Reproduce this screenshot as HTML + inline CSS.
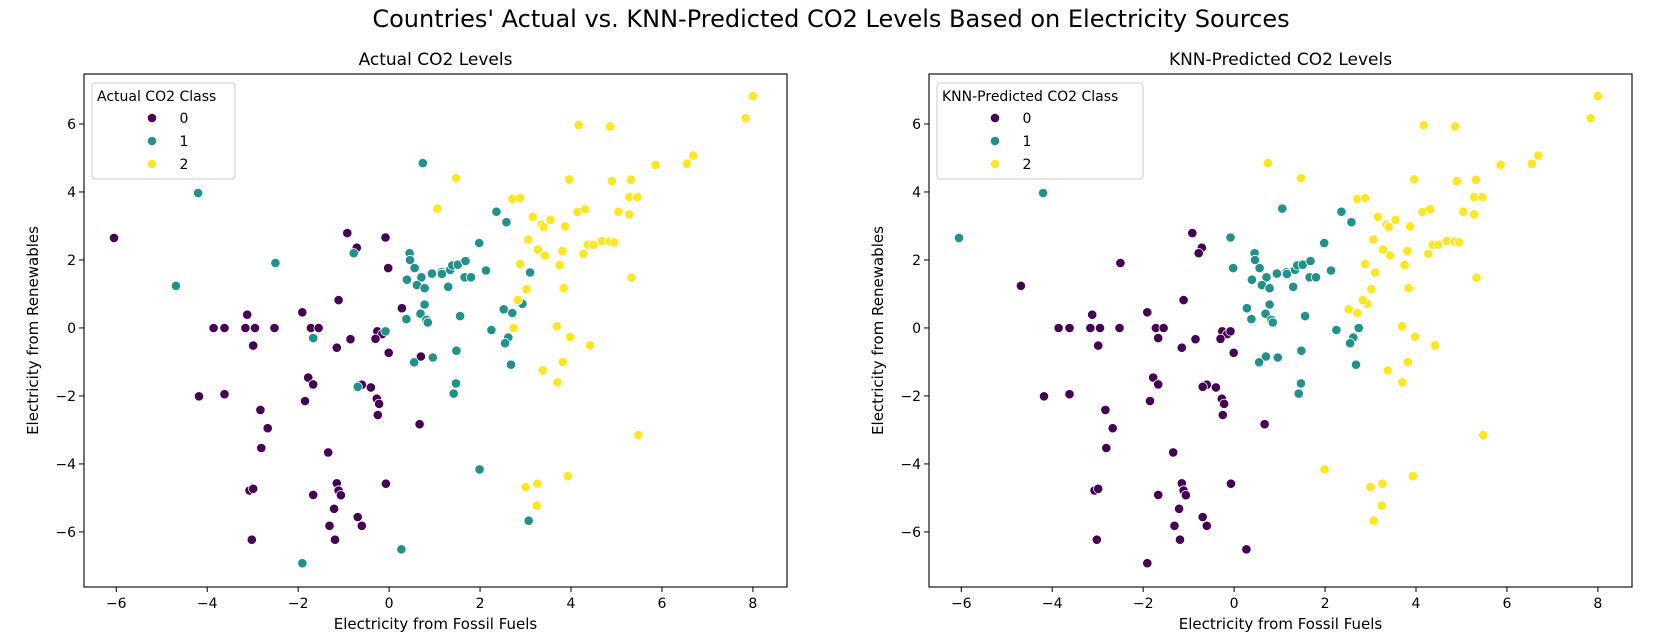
<!DOCTYPE html>
<html><head><meta charset="utf-8"><style>
html,body{margin:0;padding:0;background:#fff;}
svg{display:block;font-family:"DejaVu Sans","Liberation Sans",sans-serif;}
</style></head><body>
<svg id="fig" width="1662" height="639" viewBox="0 0 1662 639">
<text x="831" y="27" font-size="24" text-anchor="middle" fill="#000">Countries' Actual vs. KNN-Predicted CO2 Levels Based on Electricity Sources</text>
<g id="p0"></g>
<g id="p1"></g>
</svg>
<script>
const xs = [-6.05,-0.92,-0.71,-0.08,-0.02,-1.11,-3.12,-1.91,0.28,-3.86,-3.62,-3.16,-2.95,-2.52,-1.72,-1.55,-2.99,-1.15,-0.85,-0.26,-0.15,-0.3,-0.01,-1.78,-1.67,-1.85,-0.6,-0.4,-0.27,-0.22,-0.25,-4.18,-3.62,-2.83,-2.67,-2.81,-1.34,-0.07,-3.07,-2.99,-1.67,-1.15,-1.11,-1.06,-1.21,-0.69,-0.6,-1.31,-3.02,-1.19,0.7,0.67,
-4.2,-4.69,-2.5,-0.78,0.45,0.46,0.56,0.39,0.71,0.61,0.78,0.94,1.15,1.16,1.34,1.39,1.51,1.68,1.3,1.66,1.8,2.13,1.98,0.74,2.36,2.58,3.1,2.52,2.71,2.93,-1.67,-0.08,0.38,0.55,-0.69,-1.91,0.27,0.78,0.69,0.82,0.85,1.56,2.25,2.62,2.55,1.48,0.96,2.68,1.47,1.42,1.99,3.07,
2.83,2.74,3.69,3.98,4.42,3.82,3.38,3.7,5.48,3.93,3.0,3.26,3.25,4.17,4.86,8.0,7.84,1.47,3.96,4.9,5.32,5.86,6.55,6.69,5.28,5.46,2.71,2.88,4.14,4.31,5.04,5.28,3.16,3.55,3.35,3.4,3.87,3.06,3.27,3.43,3.81,4.37,4.49,4.68,4.85,4.95,4.27,2.88,3.75,5.33,3.02,3.84,1.06];
const ys = [2.65,2.79,2.36,2.66,1.76,0.82,0.39,0.46,0.58,0,0,0,0,0,0,0,-0.52,-0.58,-0.33,-0.1,-0.18,-0.32,-0.73,-1.46,-1.66,-2.15,-1.67,-1.75,-2.08,-2.23,-2.56,-2.01,-1.95,-2.41,-2.95,-3.53,-3.66,-4.58,-4.78,-4.73,-4.91,-4.57,-4.78,-4.92,-5.32,-5.56,-5.82,-5.82,-6.23,-6.23,-0.84,-2.83,
3.97,1.24,1.91,2.2,2.2,2.0,1.76,1.42,1.49,1.26,1.17,1.6,1.64,1.59,1.71,1.84,1.86,1.97,1.21,1.49,1.49,1.69,2.5,4.85,3.42,3.11,1.63,0.55,0.44,0.71,-0.3,-0.1,0.26,-1.01,-1.73,-6.92,-6.51,0.69,0.42,0.24,0.16,0.35,-0.06,-0.28,-0.45,-0.67,-0.87,-1.08,-1.63,-1.93,-4.16,-5.67,
0.82,0,0.05,-0.26,-0.51,-1.0,-1.25,-1.6,-3.15,-4.36,-4.68,-4.58,-5.23,5.97,5.93,6.82,6.17,4.41,4.37,4.32,4.36,4.8,4.83,5.07,3.85,3.85,3.8,3.82,3.41,3.49,3.42,3.34,3.27,3.18,3.04,2.97,2.99,2.6,2.31,2.13,2.26,2.45,2.45,2.56,2.54,2.52,2.18,1.88,1.85,1.48,1.14,1.17,3.51];
const actualClass = [0,0,0,0,0,0,0,0,0,0,0,0,0,0,0,0,0,0,0,0,0,0,0,0,0,0,0,0,0,0,0,0,0,0,0,0,0,0,0,0,0,0,0,0,0,0,0,0,0,0,0,0,
1,1,1,1,1,1,1,1,1,1,1,1,1,1,1,1,1,1,1,1,1,1,1,1,1,1,1,1,1,1,1,1,1,1,1,1,1,1,1,1,1,1,1,1,1,1,1,1,1,1,1,1,
2,2,2,2,2,2,2,2,2,2,2,2,2,2,2,2,2,2,2,2,2,2,2,2,2,2,2,2,2,2,2,2,2,2,2,2,2,2,2,2,2,2,2,2,2,2,2,2,2,2,2,2,2];
const predClass = [1,0,0,1,1,0,0,0,1,0,0,0,0,0,0,0,0,0,0,0,0,0,0,0,0,0,0,0,0,0,0,0,0,0,0,0,0,0,0,0,0,0,0,0,0,0,0,0,0,0,1,0,
1,0,0,0,1,1,1,1,1,1,1,1,1,1,1,1,1,1,1,1,1,1,1,2,1,1,2,2,2,2,0,0,1,1,0,0,0,1,1,1,1,1,1,1,1,1,1,1,1,1,2,2,
2,1,2,2,2,2,2,2,2,2,2,2,2,2,2,2,2,2,2,2,2,2,2,2,2,2,2,2,2,2,2,2,2,2,2,2,2,2,2,2,2,2,2,2,2,2,2,2,2,2,2,2,1];
const xTicks = [-6,-4,-2,0,2,4,6,8];
const yTicks = [-6,-4,-2,0,2,4,6];
const classLabels = ["0","1","2"];
const palette = ["#440154","#21918c","#fde725"];
const panelTitles = ["Actual CO2 Levels","KNN-Predicted CO2 Levels"];
const legendTitles = ["Actual CO2 Class","KNN-Predicted CO2 Class"];

const NS = "http://www.w3.org/2000/svg";
function mk(parent, tag, attrs, text){
  const e = document.createElementNS(NS, tag);
  for (const k in attrs) e.setAttribute(k, attrs[k]);
  if (text !== undefined) e.textContent = text;
  parent.appendChild(e);
  return e;
}
const xMin=-6.71, xMax=8.75, yMin=-7.62, yMax=7.47;
const axTop=74, axBottom=587, axWidth=703;
const lefts=[84,929];
const legW=[143,206];

function drawPanel(pi, classes){
  const g = document.getElementById('p'+pi);
  const L = lefts[pi], R = L+axWidth;
  const sx = v => L + (v-xMin)/(xMax-xMin)*axWidth;
  const sy = v => axBottom - (v-yMin)/(yMax-yMin)*(axBottom-axTop);
  let t = mk(g,'text',{x:(L+R)/2,y:65,'font-size':17,'text-anchor':'middle'},panelTitles[pi]);
  
  
  for (let i=0;i<xs.length;i++){
    const c = mk(g,'circle',{cx:sx(xs[i]).toFixed(1),cy:sy(ys[i]).toFixed(1),r:4.7,fill:palette[classes[i]],stroke:'#fff','stroke-width':0.8});
    
    
  }
  const f = mk(g,'rect',{x:L,y:axTop,width:axWidth,height:axBottom-axTop,fill:'none',stroke:'#000','stroke-width':1.1});
  
  
  xTicks.forEach(v=>{
    const x=sx(v);
    mk(g,'line',{x1:x,x2:x,y1:axBottom,y2:axBottom+5,stroke:'#000','stroke-width':1});
    const tl = mk(g,'text',{x:x,y:axBottom+21,'font-size':14,'text-anchor':'middle'},(v<0?'\u2212':'')+Math.abs(v));
    
    
  });
  yTicks.forEach(v=>{
    const y=sy(v);
    mk(g,'line',{x1:L-5,x2:L,y1:y,y2:y,stroke:'#000','stroke-width':1});
    const tl = mk(g,'text',{x:L-8,y:y+5,'font-size':14,'text-anchor':'end'},(v<0?'\u2212':'')+Math.abs(v));
    
    
  });
  const xl = mk(g,'text',{x:(L+R)/2,y:629,'font-size':15,'text-anchor':'middle'},'Electricity from Fossil Fuels');
  
  
  const yx = L-46, yc=(axTop+axBottom)/2;
  const yl = mk(g,'text',{x:yx,y:yc,'font-size':15,'text-anchor':'middle',transform:`rotate(-90 ${yx} ${yc})`},'Electricity from Renewables');
  
  
  const lg = mk(g,'g',{});
  
  
  const bx=L+8, by=83;
  mk(lg,'rect',{x:bx,y:by,width:legW[pi],height:96,rx:3,fill:'#fff','fill-opacity':0.8,stroke:'#ccc','stroke-width':1});
  mk(lg,'text',{x:bx+5,y:by+18,'font-size':14},legendTitles[pi]);
  const mx = pi===0 ? bx+60 : bx+58;
  classLabels.forEach((lab,k)=>{
    const y = by+35+k*23;
    const e = mk(lg,'g',{});
    
    
    mk(e,'circle',{cx:mx,cy:y,r:4.7,fill:palette[k],stroke:'#fff','stroke-width':0.8});
    mk(e,'text',{x:mx+32,y:y+5,'font-size':14,'text-anchor':'middle'},lab);
  });
}
drawPanel(0, actualClass);
drawPanel(1, predClass);
</script>
</body></html>
